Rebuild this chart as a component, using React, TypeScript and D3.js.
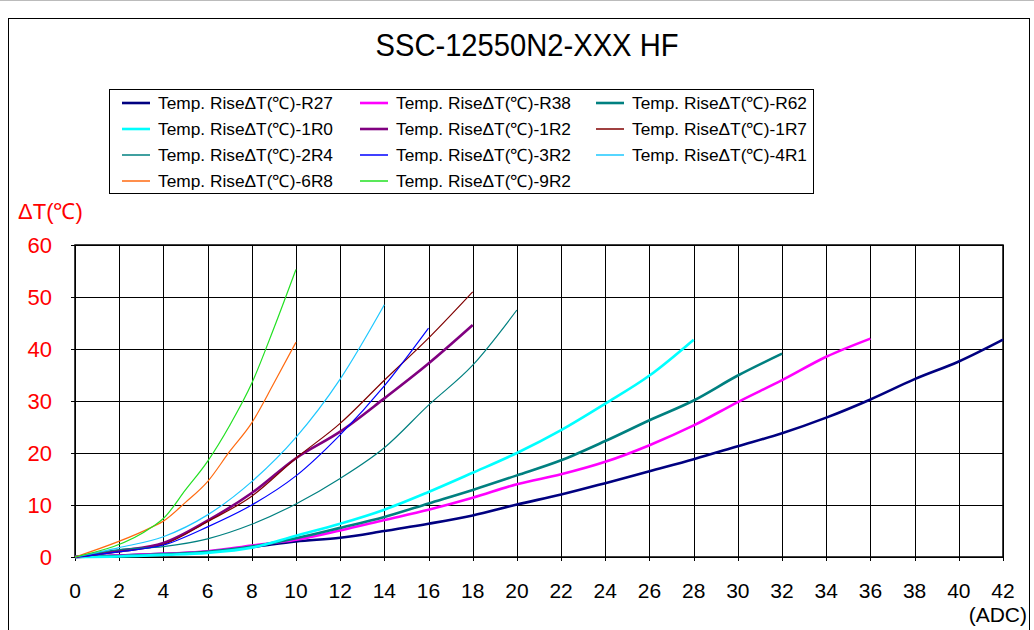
import * as d3 from "d3";

// current (ADC) steps
const evenCurrents = [0, 2, 4, 6, 8, 10, 12, 14, 16, 18, 20, 22, 24, 26, 28, 30, 32, 34, 36, 38, 40, 42];
const lowCurrents = [0, 3.5, 4, 5, 6, 7, 8, 9, 10];

// temperature rise values (deg C)
const r27 = [0, 0.3, 0.6, 1.0, 1.9, 3.0, 3.7, 5.0, 6.4, 8.0, 10.1, 12.0, 14.2, 16.5, 18.8, 21.3, 23.8, 26.8, 30.3, 34.2, 37.6, 41.8];
const r38 = [0, 0.3, 0.6, 1.1, 2.2, 3.3, 5.1, 7.1, 9.1, 11.4, 14.0, 15.9, 18.3, 21.5, 25.3, 29.8, 34.0, 38.5, 42.0];
const r62 = [0, 0.2, 0.5, 1.0, 2.0, 3.6, 5.6, 7.7, 10.3, 12.9, 15.7, 18.6, 22.3, 26.3, 30.1, 34.9, 39.1];
const x1r0 = [0, 0.1, 0.4, 0.8, 1.8, 4.1, 6.4, 9.1, 12.5, 16.2, 20.0, 24.4, 29.5, 34.9, 41.8];
const x1r2 = [0, 1.2, 2.7, 7.0, 12.3, 19.0, 24.1, 30.5, 37.2, 44.6];
const x1r7 = [0, 1.0, 2.4, 6.8, 11.7, 19.0, 25.7, 34.0, 42.1, 51.0];
const x2r4 = [0, 1.4, 2.0, 3.5, 6.3, 10.2, 15.1, 21.0, 29.2, 36.9, 47.5];
const x3r2 = [0, 1.0, 2.3, 5.8, 10.0, 15.6, 23.5, 32.9, 44.0];
const x4r1 = [0, 1.8, 3.9, 8.1, 14.5, 23.0, 34.2, 48.5];
const x6r8 = [0, 5.8, 6.9, 10.5, 14.5, 20.3, 25.8, 33.4, 41.3];
const x9r2 = [0, 5.8, 7.4, 12.9, 18.4, 25.3, 33.4, 44.0, 55.3];

const yTicks = [0, 10, 20, 30, 40, 50, 60];
const xTicks = d3.range(0, 43, 2);

const series = [
  { name: "Temp. RiseΔT(℃)-R27", xs: evenCurrents, ys: r27, color: "#000080", w: 2.6 },
  { name: "Temp. RiseΔT(℃)-R38", xs: evenCurrents, ys: r38, color: "#ff00ff", w: 2.6 },
  { name: "Temp. RiseΔT(℃)-R62", xs: evenCurrents, ys: r62, color: "#008080", w: 2.6 },
  { name: "Temp. RiseΔT(℃)-1R0", xs: evenCurrents, ys: x1r0, color: "#00ffff", w: 2.6 },
  { name: "Temp. RiseΔT(℃)-1R2", xs: evenCurrents, ys: x1r2, color: "#800080", w: 2.6 },
  { name: "Temp. RiseΔT(℃)-1R7", xs: evenCurrents, ys: x1r7, color: "#800000", w: 1.2 },
  { name: "Temp. RiseΔT(℃)-2R4", xs: evenCurrents, ys: x2r4, color: "#008080", w: 1.2 },
  { name: "Temp. RiseΔT(℃)-3R2", xs: evenCurrents, ys: x3r2, color: "#0000ff", w: 1.2 },
  { name: "Temp. RiseΔT(℃)-4R1", xs: evenCurrents, ys: x4r1, color: "#1ec8ff", w: 1.2 },
  { name: "Temp. RiseΔT(℃)-6R8", xs: lowCurrents, ys: x6r8, color: "#ff6a10", w: 1.2 },
  { name: "Temp. RiseΔT(℃)-9R2", xs: lowCurrents, ys: x9r2, color: "#22e022", w: 1.2 },
];

const FONT = "'Liberation Sans', Arial, sans-serif";

export default function App() {
  const W = 1034, H = 630;
  const x = d3.scaleLinear().domain([0, 42]).range([75, 1003]);
  const y = d3.scaleLinear().domain([0, 60]).range([557, 245]);

  const line = d3.line<[number, number]>()
    .x(d => x(d[0]))
    .y(d => y(d[1]))
    .curve(d3.curveMonotoneX);

  const legendCols = [122, 360, 596];

  return (
    <svg width={W} height={H} style={{ position: "absolute", left: 0, top: 0, background: "#fff" }} fontFamily={FONT}>
      <rect x={0} y={0} width={W} height={H} fill="#fff" />
      <line x1={0} x2={W} y1={0.5} y2={0.5} stroke="#bbb" />
      {/* chart frame */}
      <rect x={8.5} y={18.5} width={1021} height={700} fill="none" stroke="#000" strokeWidth={1} />

      <text x={527} y={56} textAnchor="middle" fontSize={32} textLength={303} lengthAdjust="spacingAndGlyphs">
        SSC-12550N2-XXX HF
      </text>

      {/* legend */}
      <rect x={109.5} y={89.5} width={704} height={104} fill="#fff" stroke="#000" />
      {series.map((s, i) => {
        const cx = legendCols[i % 3];
        const cy = 103 + Math.floor(i / 3) * 26;
        return (
          <g key={s.name}>
            <line x1={cx} x2={cx + 28} y1={cy} y2={cy} stroke={s.color} strokeWidth={s.w < 2 ? 1.5 : 2.6} />
            <text x={cx + 36} y={cy} dy="0.36em" fontSize={17} textLength={175} lengthAdjust="spacingAndGlyphs">{s.name}</text>
          </g>
        );
      })}

      {/* grid */}
      <g stroke="#000" strokeWidth={1}>
        {xTicks.map(t => (
          <line key={"gx" + t} x1={Math.round(x(t)) + 0.5} x2={Math.round(x(t)) + 0.5} y1={y(60)} y2={y(0) + 4} />
        ))}
        {yTicks.map(t => (
          <line key={"gy" + t} x1={x(0) - 4} x2={x(42)} y1={Math.round(y(t)) + 0.5} y2={Math.round(y(t)) + 0.5} />
        ))}
      </g>
      <rect x={x(0)} y={y(60)} width={x(42) - x(0)} height={y(0) - y(60)} fill="none" stroke="#000" strokeWidth={1.5} />

      {/* series */}
      {series.map(s => (
        <path key={"p" + s.name}
          d={line(s.ys.map((v, i) => [s.xs[i], v] as [number, number])) || ""}
          fill="none" stroke={s.color} strokeWidth={s.w} strokeLinejoin="round" />
      ))}

      {/* y axis */}
      <text x={18} y={219} fontSize={22} fill="#ff0000">ΔT(℃)</text>
      {yTicks.map(t => (
        <text key={"yt" + t} x={52} y={y(t)} dy="0.36em" textAnchor="end" fontSize={22} fill="#ff0000">{t}</text>
      ))}

      {/* x axis */}
      {xTicks.map(t => (
        <text key={"xt" + t} x={x(t)} y={598} textAnchor="middle" fontSize={21}>{t}</text>
      ))}
      <text x={1027} y={622} textAnchor="end" fontSize={21}>(ADC)</text>
    </svg>
  );
}
